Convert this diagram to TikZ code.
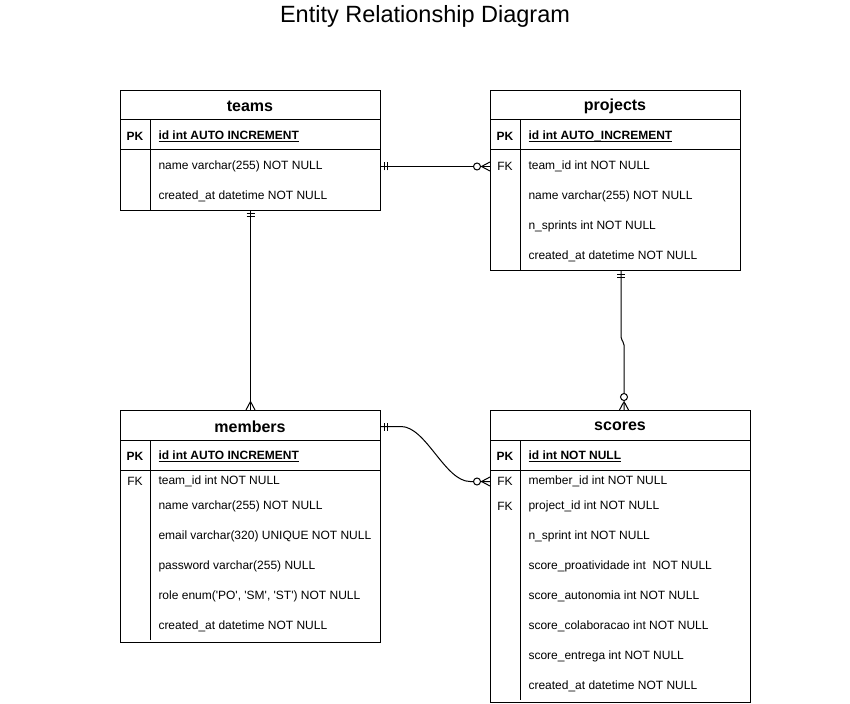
\documentclass[tikz,border=0pt]{standalone}
\usepackage{fontspec}
\setmainfont{Liberation Sans}
\usetikzlibrary{decorations.markings,calc}

\newcommand{\keyname}[1]{\setbox0\hbox{#1}\rlap{\rule[-2.4pt]{\wd0}{1pt}}\box0}

\tikzset{
  entity/.style={draw, rectangle, inner sep=0pt, anchor=north west},
  head/.style={yshift=-1.5pt, font=\fontsize{16}{19}\selectfont\bfseries},
  field/.style={anchor=west, yshift=-1.5pt, inner sep=0pt, font=\fontsize{12}{14}\selectfont},
  key/.style={yshift=-1.5pt, inner sep=0pt, font=\fontsize{12}{14}\selectfont\bfseries},
  fkey/.style={yshift=-1.5pt, inner sep=0pt, font=\fontsize{12}{14}\selectfont},
  pkfield/.style={field, font=\fontsize{12}{14}\selectfont\bfseries},
  one start/.style={postaction={decorate,decoration={markings,
     mark=at position 3pt with {\draw (0pt,-4pt) -- (0pt,4pt);},
     mark=at position 6pt with {\draw (0pt,-4pt) -- (0pt,4pt);}}}},
  many end/.style={postaction={decorate,decoration={markings,
     mark=at position -0.5pt with {\draw (0.5pt,4.5pt) -- (-8pt,0pt) -- (0.5pt,-4.5pt);}}}},
  zero many end/.style={postaction={decorate,decoration={markings,
     mark=at position -13pt with {\draw[fill=white] (0pt,0pt) circle (3.5pt);},
     mark=at position -0.5pt with {\draw (0.5pt,4.5pt) -- (-8pt,0pt) -- (0.5pt,-4.5pt);}}}},
}

\begin{document}
\begin{tikzpicture}[x=1pt,y=-1pt,line width=1pt]
\useasboundingbox (0,0) rectangle (850,703);
\node[anchor=base, font=\fontsize{23.5}{28}\selectfont] (title) at (425,23) {Entity Relationship Diagram};

% teams
\node[entity, minimum width=260pt, minimum height=120pt] (teams) at (120,90) {};
\draw (120,120) -- (380,120) (120,150) -- (380,150) (150,120) -- (150,210);
\node[head] (teamsT) at (250,105) {teams};
\node[key] (teamsPK) at (135,135) {PK};
\node[pkfield] (teamsId) at (158,135) {\keyname{id int AUTO INCREMENT}};
\node[field] (teamsName) at (158,165) {name varchar(255) NOT NULL};
\node[field] (teamsCreated) at (158,195) {created\_at datetime NOT NULL};

% projects
\node[entity, minimum width=250pt, minimum height=180pt] (projects) at (490,90) {};
\draw (490,120) -- (740,120) (490,150) -- (740,150) (520,120) -- (520,270);
\node[head] (projectsT) at (615,105) {projects};
\node[key] (projectsPK) at (505,135) {PK};
\node[pkfield] (projectsId) at (528,135) {\keyname{id int AUTO\_INCREMENT}};
\node[fkey] (projectsFK) at (505,165) {FK};
\node[field] (projectsTeam) at (528,165) {team\_id int NOT NULL};
\node[field] (projectsName) at (528,195) {name varchar(255) NOT NULL};
\node[field] (projectsSprints) at (528,225) {n\_sprints int NOT NULL};
\node[field] (projectsCreated) at (528,255) {created\_at datetime NOT NULL};

% members
\node[entity, minimum width=260pt, minimum height=232pt] (members) at (120,410) {};
\draw (120,440) -- (380,440) (120,470) -- (380,470) (150,440) -- (150,640);
\node[head] (membersT) at (250,425) {members};
\node[key] (membersPK) at (135,455) {PK};
\node[pkfield] (membersId) at (158,455) {\keyname{id int AUTO INCREMENT}};
\node[fkey] (membersFK) at (135,480) {FK};
\node[field] (membersTeam) at (158,480) {team\_id int NOT NULL};
\node[field] (membersName) at (158,505) {name varchar(255) NOT NULL};
\node[field] (membersEmail) at (158,535) {email varchar(320) UNIQUE NOT NULL};
\node[field] (membersPass) at (158,565) {password varchar(255) NULL};
\node[field] (membersRole) at (158,595) {role enum(\textquotesingle PO\textquotesingle, \textquotesingle SM\textquotesingle, \textquotesingle ST\textquotesingle) NOT NULL};
\node[field] (membersCreated) at (158,625) {created\_at datetime NOT NULL};

% scores
\node[entity, minimum width=260pt, minimum height=292pt] (scores) at (490,410) {};
\draw (490,440) -- (750,440) (490,470) -- (750,470) (520,440) -- (520,700);
\node[head] (scoresT) at (620,425) {scores};
\node[key] (scoresPK) at (505,455) {PK};
\node[pkfield] (scoresId) at (528,455) {\keyname{id int NOT NULL}};
\node[fkey] (scoresFK1) at (505,480) {FK};
\node[field] (scoresMember) at (528,480) {member\_id int NOT NULL};
\node[fkey] (scoresFK2) at (505,505) {FK};
\node[field] (scoresProject) at (528,505) {project\_id int NOT NULL};
\node[field] (scoresSprint) at (528,535) {n\_sprint int NOT NULL};
\node[field] (scoresProat) at (528,565) {score\_proatividade int \ NOT NULL};
\node[field] (scoresAuton) at (528,595) {score\_autonomia int NOT NULL};
\node[field] (scoresColab) at (528,625) {score\_colaboracao int NOT NULL};
\node[field] (scoresEntrega) at (528,655) {score\_entrega int NOT NULL};
\node[field] (scoresCreated) at (528,685) {created\_at datetime NOT NULL};

% relations
\draw[one start, zero many end] (teamsName -| teams.east) -- (projectsTeam -| projects.west);
\draw[one start, many end] (teams.south) -- (members.north);
\draw[one start, zero many end, rounded corners=2pt] ($(projects.south)+(5.5,0)$) -- ++(0,68) -- ++(3,4) -- ($(scores.north)+(3.5,0)$);
\draw[one start, zero many end] (membersT -| members.east) -- ++(20,0) .. controls +(25,0) and +(-25,0) .. ($(scoresMember -| scores.west)+(-20,0)$) -- (scoresMember -| scores.west);
\end{tikzpicture}
\end{document}
